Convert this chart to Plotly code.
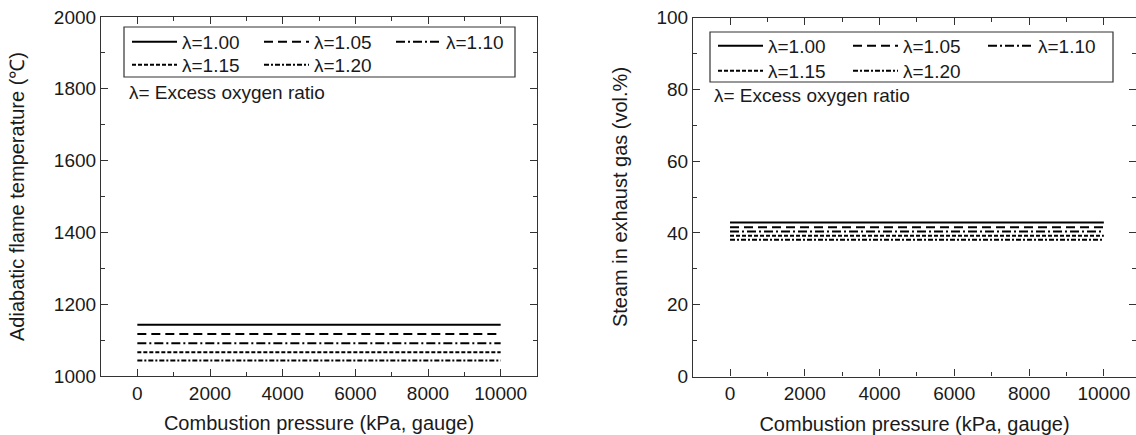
import plotly.graph_objects as go

# ---- data ----
pressure_kpa = [0, 1000, 2000, 3000, 4000, 5000, 6000, 7000, 8000, 9000, 10000]
lambda_labels = ["λ=1.00", "λ=1.05", "λ=1.10", "λ=1.15", "λ=1.20"]

flame_temp = {
    "λ=1.00": [1143, 1143, 1143, 1143, 1143, 1143, 1143, 1143, 1143, 1143, 1143],
    "λ=1.05": [1117, 1117, 1117, 1117, 1117, 1117, 1117, 1117, 1117, 1117, 1117],
    "λ=1.10": [1091, 1091, 1091, 1091, 1091, 1091, 1091, 1091, 1091, 1091, 1091],
    "λ=1.15": [1066, 1066, 1066, 1066, 1066, 1066, 1066, 1065, 1065, 1066, 1066],
    "λ=1.20": [1043, 1043, 1043, 1043, 1043, 1043, 1043, 1043, 1043, 1043, 1043],
}
steam_pct = {
    "λ=1.00": [42.9, 42.9, 42.9, 42.9, 42.9, 42.9, 42.9, 42.9, 42.9, 42.9, 42.9],
    "λ=1.05": [41.6, 41.6, 41.6, 41.6, 41.6, 41.6, 41.6, 41.6, 41.6, 41.6, 41.6],
    "λ=1.10": [40.4, 40.4, 40.4, 40.4, 40.4, 40.4, 40.4, 40.4, 40.4, 40.4, 40.4],
    "λ=1.15": [39.2, 39.2, 39.2, 39.2, 39.2, 39.2, 39.2, 39.2, 39.2, 39.2, 39.2],
    "λ=1.20": [38.1, 38.1, 38.1, 38.1, 38.1, 38.1, 38.1, 38.1, 38.1, 38.1, 38.1],
}
x_tickvals = [0, 2000, 4000, 6000, 8000, 10000]
x_ticktext = ["0", "2000", "4000", "6000", "8000", "10000"]
left_yticks = [1000, 1200, 1400, 1600, 1800, 2000]
right_yticks = [0, 20, 40, 60, 80, 100]

# ---- styles ----
dashes = {
    "λ=1.00": "solid",
    "λ=1.05": "9px,5px",
    "λ=1.10": "9px,3px,2px,3px",
    "λ=1.15": "4px,2px",
    "λ=1.20": "5px,2px,2px,2px",
}
W, H = 1136, 435
FONT = "Liberation Sans, Arial, sans-serif"
AX = "#333333"
TXT = "#1a1a1a"

fig = go.Figure()

left_legends = {"λ=1.00": "legend", "λ=1.05": "legend", "λ=1.10": "legend",
                "λ=1.15": "legend2", "λ=1.20": "legend2"}
right_legends = {"λ=1.00": "legend3", "λ=1.05": "legend3", "λ=1.10": "legend3",
                 "λ=1.15": "legend4", "λ=1.20": "legend4"}

for lab in lambda_labels:
    fig.add_trace(go.Scatter(x=pressure_kpa, y=flame_temp[lab], mode="lines", name=lab,
                             line=dict(color="black", width=2, dash=dashes[lab]),
                             xaxis="x", yaxis="y", legend=left_legends[lab]))
for lab in lambda_labels:
    fig.add_trace(go.Scatter(x=pressure_kpa, y=steam_pct[lab], mode="lines", name=lab,
                             line=dict(color="black", width=2, dash=dashes[lab]),
                             xaxis="x2", yaxis="y2", legend=right_legends[lab]))


def px(v):
    return v / W


def py(v):
    return 1 - v / H


common_axis = dict(showline=True, linecolor=AX, linewidth=1.2, mirror="ticks",
                   ticks="inside", ticklen=7, tickwidth=1, tickcolor=AX,
                   showgrid=False, zeroline=False, automargin=False,
                   tickfont=dict(family=FONT, size=19, color=TXT))
title_font = dict(family=FONT, size=20, color=TXT)

fig.update_layout(
    width=W, height=H,
    margin=dict(l=0, r=0, t=0, b=0, autoexpand=False),
    paper_bgcolor="white", plot_bgcolor="white",
    font=dict(family=FONT, size=19, color=TXT),
    xaxis=dict(domain=[px(101), px(537)], range=[-1000, 11000],
               tickvals=x_tickvals, ticktext=x_ticktext,
               minor=dict(dtick=1000, tick0=0, ticks="inside", ticklen=4, tickcolor=AX),
               title=dict(text="Combustion pressure (kPa, gauge)", font=title_font, standoff=13),
               anchor="y", **common_axis),
    yaxis=dict(domain=[py(376), py(17)], range=[1000, 2000],
               tickvals=left_yticks,
               minor=dict(dtick=100, tick0=0, ticks="inside", ticklen=4, tickcolor=AX),
               title=dict(text="Adiabatic flame temperature (℃)", font=title_font, standoff=23),
               anchor="x", **common_axis),
    xaxis2=dict(domain=[px(693), 1.0], range=[-990, 10860],
                tickvals=x_tickvals, ticktext=x_ticktext,
                minor=dict(dtick=1000, tick0=0, ticks="inside", ticklen=4, tickcolor=AX),
                title=dict(text="Combustion pressure (kPa, gauge)", font=title_font, standoff=13),
                anchor="y2", **common_axis),
    yaxis2=dict(domain=[py(376.5), py(17.5)], range=[0, 100],
                tickvals=right_yticks,
                minor=dict(dtick=10, tick0=0, ticks="inside", ticklen=4, tickcolor=AX),
                title=dict(text="Steam in exhaust gas (vol.%)", font=title_font, standoff=23),
                anchor="x2", **common_axis),
)

leg_common = dict(orientation="h", bgcolor="rgba(0,0,0,0)", borderwidth=0,
                  font=dict(family=FONT, size=19, color=TXT),
                  xanchor="left", yanchor="middle", itemwidth=45,
                  entrywidthmode="pixels")
fig.update_layout(
    legend=dict(x=px(127), y=py(42), entrywidth=72, **leg_common),
    legend2=dict(x=px(127), y=py(65), entrywidth=72, **leg_common),
    legend3=dict(x=px(713), y=py(46), entrywidth=75, **leg_common),
    legend4=dict(x=px(713), y=py(71), entrywidth=75, **leg_common),
)

# legend frames
fig.add_shape(type="rect", xref="paper", yref="paper",
              x0=px(124), x1=px(515), y0=py(77), y1=py(27),
              line=dict(color=AX, width=1.2), fillcolor="rgba(0,0,0,0)")
fig.add_shape(type="rect", xref="paper", yref="paper",
              x0=px(710), x1=px(1113), y0=py(82), y1=py(32),
              line=dict(color=AX, width=1.2), fillcolor="rgba(0,0,0,0)")

fig.add_annotation(text="λ= Excess oxygen ratio", xref="paper", yref="paper",
                   x=px(127), y=py(93), xanchor="left", yanchor="middle",
                   showarrow=False, font=dict(family=FONT, size=19, color=TXT))
fig.add_annotation(text="λ= Excess oxygen ratio", xref="paper", yref="paper",
                   x=px(712), y=py(95), xanchor="left", yanchor="middle",
                   showarrow=False, font=dict(family=FONT, size=19, color=TXT))

fig.write_html("out.html", config={"displayModeBar": False},
               post_script="document.body.style.margin='0px';")
